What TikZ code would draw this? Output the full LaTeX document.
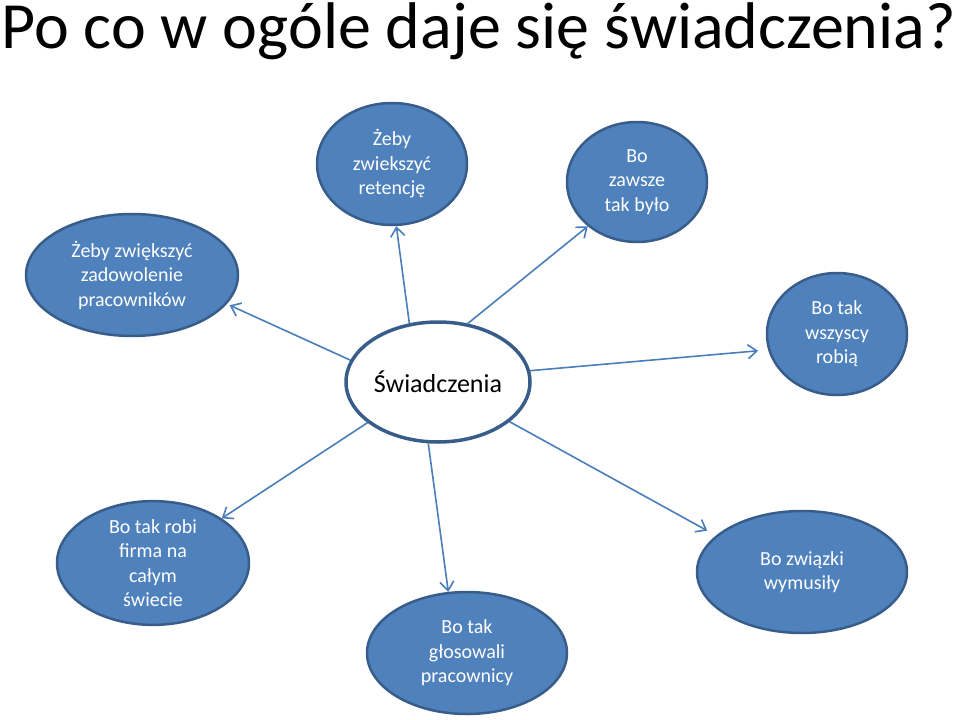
\documentclass[tikz,border=0pt]{standalone}
\usepackage{fontspec}
\setmainfont{Carlito}
\usetikzlibrary{shapes.geometric,arrows.meta}
\definecolor{bluefill}{HTML}{4F81BD}
\definecolor{blueborder}{HTML}{385D8A}
\definecolor{arrowblue}{HTML}{4A7EBB}
\tikzset{
  bubble/.style={ellipse, draw=blueborder, line width=2.5pt, fill=bluefill, text=white,
    inner sep=0pt, align=center, font=\fontsize{20}{24.5}\selectfont},
  hub/.style={ellipse, draw=blueborder, line width=3.5pt, fill=white, text=black,
    inner sep=0pt, align=center, font=\fontsize{26}{30}\selectfont},
  conn/.style={draw=arrowblue, line width=1.6pt, -{Straight Barb[length=9pt,width=14pt,line width=1.6pt]}}
}
\begin{document}
\begin{tikzpicture}[x=1pt,y=-1pt]
\useasboundingbox (0,0) rectangle (959,720);
\node[anchor=base west, inner sep=0pt, font=\fontsize{66}{72}\selectfont] (title) at (1,48) {Po co w ogóle daje się świadczenia?};

\node[hub, minimum width=184pt, minimum height=120pt] (c) at (438,382) {Świadczenia};

\node[bubble, minimum width=150pt, minimum height=122pt] (r) at (392,164) {Żeby\\zwiekszyć\\retencję};
\node[bubble, minimum width=140pt, minimum height=120pt] (z) at (637,182) {Bo\\zawsze\\tak było};
\node[bubble, minimum width=212pt, minimum height=122pt] (l) at (132,275) {Żeby zwiększyć\\zadowolenie\\pracowników};
\node[bubble, minimum width=140pt, minimum height=122pt] (w) at (837,334) {Bo tak\\wszyscy\\robią};
\node[bubble, minimum width=192pt, minimum height=122pt] (f) at (153,563) {Bo tak robi\\firma na\\całym\\świecie};
\node[bubble, minimum width=200pt, minimum height=122pt] (g) at (467,653) {Bo tak\\głosowali\\pracownicy};
\node[bubble, minimum width=210pt, minimum height=122pt] (y) at (802,572) {Bo związki\\wymusiły};

\draw[conn] (c.116.6) -- (r.-86.2);
\draw[conn] (c.63) -- (z.-138);
\draw[conn, shorten >=3pt] (c.166.4) -- (l.-17);
\draw[conn, shorten >=10pt] (c.7.4) -- (w.-167.3);
\draw[conn] (c.-150) -- (f.33.1);
\draw[conn] (c.-99.5) -- (g.107.3);
\draw[conn, shorten >=10pt] (c.-29.1) -- (y.157.2);
\end{tikzpicture}
\end{document}
